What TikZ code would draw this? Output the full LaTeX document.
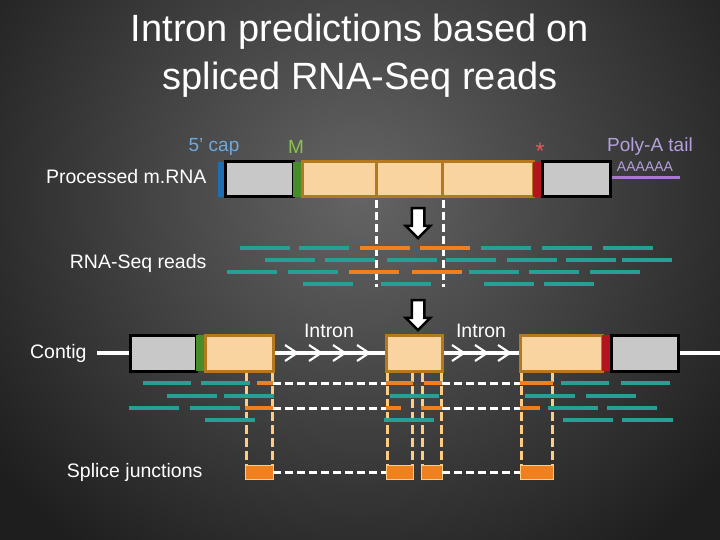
\documentclass[tikz,border=0pt]{standalone}
\usepackage{fontspec}
\setmainfont{Liberation Sans}
\usetikzlibrary{shapes.arrows}
\definecolor{teal1}{RGB}{38,160,148}
\definecolor{org}{RGB}{240,128,30}
\definecolor{exon}{RGB}{250,212,160}
\definecolor{exonb}{RGB}{180,120,30}
\definecolor{lor}{RGB}{255,205,130}
\definecolor{gbox}{RGB}{200,200,200}
\definecolor{capc}{RGB}{111,168,220}
\definecolor{mc}{RGB}{139,195,74}
\definecolor{stc}{RGB}{224,90,90}
\definecolor{pac}{RGB}{180,160,220}
\definecolor{pal}{RGB}{170,120,210}
\definecolor{blu}{RGB}{30,110,180}
\definecolor{grn}{RGB}{70,140,40}
\definecolor{redc}{RGB}{180,20,30}
\definecolor{bgi}{RGB}{100,100,100}
\definecolor{bgo}{RGB}{30,30,30}
\begin{document}
\begin{tikzpicture}[x=1pt,y=-1pt,
 rd/.style={teal1,line width=3.6pt},
 ro/.style={org,line width=3.6pt},
 wd/.style={white,line width=3pt,dash pattern=on 8pt off 4pt},
 od/.style={lor,line width=3pt,dash pattern=on 9pt off 4pt},
 lbl/.style={white,font=\fontsize{19.5}{21}\selectfont},
 barr/.style={single arrow,single arrow head extend=6pt,shape border rotate=270,draw=black,line width=2.5pt,fill=white,minimum height=30pt,inner sep=5pt},
 gb/.style={fill=gbox,draw=black,line width=3pt},
 ex/.style={fill=exon,draw=exonb,line width=3pt}]
\useasboundingbox (0,0) rectangle (720,540);
\shade[inner color=bgi,outer color=bgo] (-100,-250) rectangle (820,640);
\node[white,align=center,font=\fontsize{38}{48}\selectfont] (t) at (360,56) {Intron predictions based on\\spliced RNA-Seq reads};
% mRNA
\node[lbl,anchor=east] (pm) at (210,177) {Processed m.RNA};
\node[font=\fontsize{19}{21}\selectfont,text=capc] (cap) at (214,147) {5’ cap};
\node[font=\fontsize{19}{21}\selectfont,text=mc] (m) at (296,147) {M};
\node[font=\fontsize{24}{21}\selectfont,text=stc] (st) at (540,151) {*};
\node[font=\fontsize{19}{21}\selectfont,text=pac] (pa) at (650,147) {Poly-A tail};
\node[font=\fontsize{14}{15}\selectfont,text=pac,inner sep=1pt] (aa) at (645,167) {AAAAAA};
\draw[pal,line width=3pt] (610,178) -- (680,178);
\fill[blu] (218,162) rectangle (225,197);
\draw[gb] (225,162) rectangle (293,197);
\fill[grn] (293,162) rectangle (302,197);
\draw[ex] (302,162) rectangle (533,197);
\draw[exonb,line width=3pt] (376,162)--(376,197) (442,162)--(442,197);
\fill[redc] (533,162) rectangle (542,197);
\draw[gb] (542,162) rectangle (610,197);
\draw[wd] (376,200)--(376,287) (443,200)--(443,287);
\node[barr] (a1) at (418,220) {};
\node[barr] (a2) at (418,312) {};
% reads
\node[lbl,anchor=east] (rs) at (210,263) {RNA-Seq reads};
\foreach \a/\b in {240/290,299/349,481/531,542/592,603/653} \draw[rd] (\a,248)--(\b,248);
\foreach \a/\b in {360/410,420/470} \draw[ro] (\a,248)--(\b,248);
\foreach \a/\b in {265/315,325/375,387/437,446/496,507/557,566/616,622/672} \draw[rd] (\a,260)--(\b,260);
\foreach \a/\b in {227/277,288/338,469/519,529/579,590/640} \draw[rd] (\a,272)--(\b,272);
\foreach \a/\b in {349/399,412/462} \draw[ro] (\a,272)--(\b,272);
\foreach \a/\b in {303/353,381/431,484/534,544/594} \draw[rd] (\a,284)--(\b,284);
% contig
\node[lbl,anchor=east] (cg) at (90,353) {Contig};
\draw[white,line width=3.5pt] (97,353)--(130,353) (273,353)--(386,353) (442,353)--(520,353) (678,353)--(720,353);
\foreach \x in {285,309,333,357,452,475,498} \draw[white,line width=2.2pt] (\x,345)--(\x+12,353)--(\x,361);
\draw[gb] (130,335) rectangle (196,371);
\fill[grn] (196,335) rectangle (205,371);
\draw[ex] (205,335) rectangle (273,371);
\draw[ex] (386,335) rectangle (442,371);
\draw[ex] (520,335) rectangle (602,371);
\fill[redc] (602,335) rectangle (611,371);
\draw[gb] (611,335) rectangle (678,371);
\node[lbl] (i1) at (329,331) {Intron};
\node[lbl] (i2) at (481,331) {Intron};
% junction verticals
\foreach \x in {246,272,387,412,422,441,521,552} \draw[od] (\x,373)--(\x,466);
% reads below
\foreach \a/\b in {143/191,201/250,561/609,621/670} \draw[rd] (\a,383)--(\b,383);
\foreach \a/\b in {257/273,386/413,424/442,520/553} \draw[ro] (\a,383)--(\b,383);
\draw[wd] (273,383)--(386,383) (442,383)--(520,383);
\foreach \a/\b in {167/217,224/274,390/439,525/575,586/636} \draw[rd] (\a,396)--(\b,396);
\foreach \a/\b in {129/179,190/240,548/598,607/657} \draw[rd] (\a,408)--(\b,408);
\foreach \a/\b in {245/273,386/401,421/442,520/540} \draw[ro] (\a,408)--(\b,408);
\draw[wd] (273,408)--(386,408) (442,408)--(520,408);
\foreach \a/\b in {205/255,384/434,563/613,622/673} \draw[rd] (\a,420)--(\b,420);
% splice junctions
\node[lbl,anchor=east] (sj) at (206,472) {Splice junctions};
\foreach \a/\b in {245/273,386/413,421/442,520/553} \draw[fill=org,draw=lor,line width=1pt] (\a,465) rectangle (\b,479);
\draw[wd] (273,472)--(386,472) (442,472)--(520,472);
\end{tikzpicture}
\end{document}
